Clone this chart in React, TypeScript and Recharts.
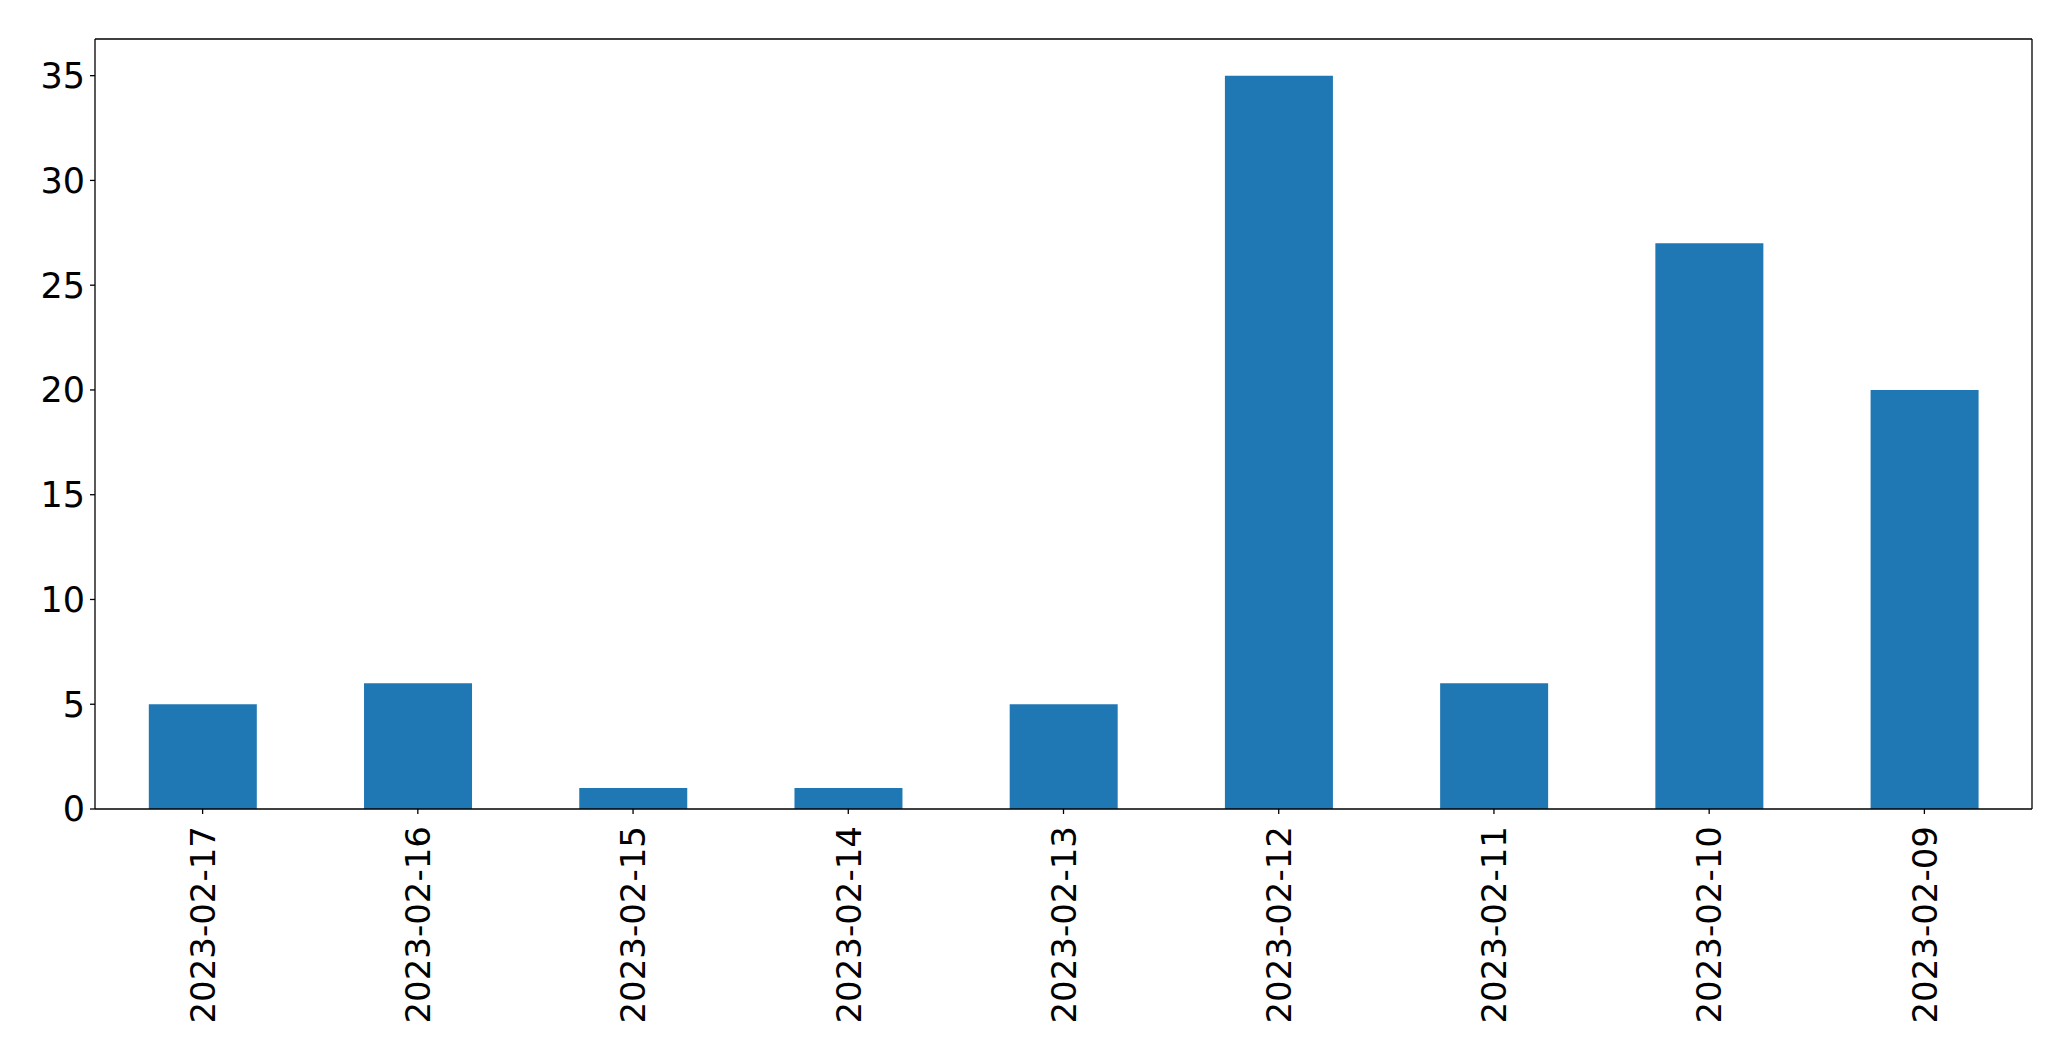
import { BarChart, Bar, XAxis, YAxis } from "recharts";

const dates = [
  "2023-02-17",
  "2023-02-16",
  "2023-02-15",
  "2023-02-14",
  "2023-02-13",
  "2023-02-12",
  "2023-02-11",
  "2023-02-10",
  "2023-02-09",
];
const counts = [5, 6, 1, 1, 5, 35, 6, 27, 20];
const yTicks = [0, 5, 10, 15, 20, 25, 30, 35];

const data = dates.map((d, i) => ({ date: d, count: counts[i] }));

const FONT = "'DejaVu Sans', sans-serif";

function DateTick(props: any) {
  const { x, y, payload } = props;
  return (
    <text
      x={x}
      y={y}
      transform={`rotate(-90, ${x}, ${y})`}
      textAnchor="end"
      dy="0.36em"
      fontSize={34}
      fontFamily={FONT}
      fill="#000"
    >
      {payload.value}
    </text>
  );
}

export default function App() {
  return (
    <div style={{ position: "absolute", left: 0, top: 0, background: "#fff" }}>
      <BarChart
        width={2071}
        height={1061}
        data={data}
        margin={{ top: 38, right: 38, left: 0, bottom: 0 }}
        barCategoryGap="25%"
      >
        <XAxis
          dataKey="date"
          height={252}
          interval={0}
          tick={<DateTick />}
          tickSize={5}
          tickMargin={12}
          axisLine={{ stroke: "#000", strokeWidth: 1.3 }}
          tickLine={{ stroke: "#000", strokeWidth: 1.3 }}
        />
        {/* top + right axes just close the frame */}
        <XAxis
          xAxisId="top"
          dataKey="date"
          orientation="top"
          height={1}
          tick={false}
          tickLine={false}
          axisLine={{ stroke: "#000", strokeWidth: 1.3 }}
        />
        <YAxis
          width={95}
          domain={[0, 36.75]}
          ticks={yTicks}
          interval={0}
          tickSize={5}
          tickMargin={5}
          tick={{ fontSize: 35, fontFamily: FONT, fill: "#000" }}
          axisLine={{ stroke: "#000", strokeWidth: 1.3 }}
          tickLine={{ stroke: "#000", strokeWidth: 1.3 }}
        />
        <YAxis
          yAxisId="right"
          orientation="right"
          width={1}
          domain={[0, 36.75]}
          tick={false}
          tickLine={false}
          axisLine={{ stroke: "#000", strokeWidth: 1.3 }}
        />
        <Bar dataKey="count" fill="#1f77b4" isAnimationActive={false} />
      </BarChart>
    </div>
  );
}
